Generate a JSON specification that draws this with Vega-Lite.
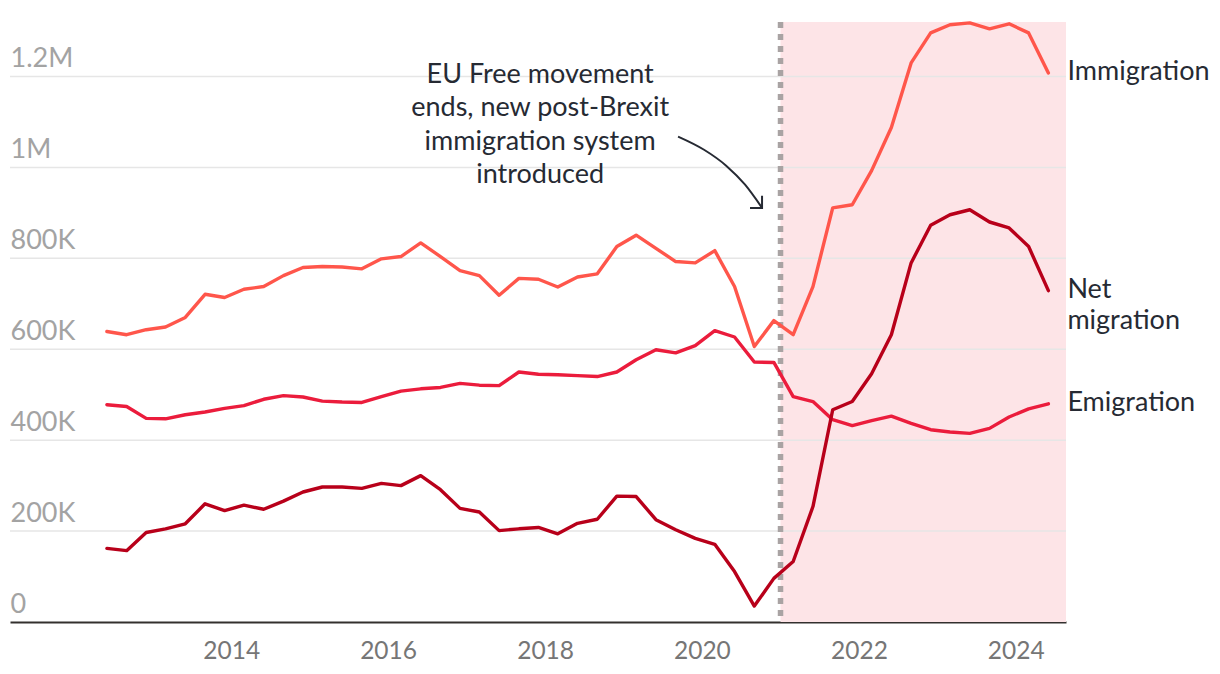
{
  "$schema": "https://vega.github.io/schema/vega-lite/v6.json",
  "width": 1056,
  "height": 600,
  "autosize": {"type": "none"},
  "padding": {"left": 10, "top": 22, "right": 154, "bottom": 52},
  "background": "white",
  "config": {"view": {"stroke": null}, "font": "Lato"},
  "data": {
    "values": [
      {"date": "2012/06/01", "Immigration": 639, "Emigration": 478, "Net migration": 162},
      {"date": "2012/09/01", "Immigration": 632, "Emigration": 474, "Net migration": 157},
      {"date": "2012/12/01", "Immigration": 643, "Emigration": 448, "Net migration": 197},
      {"date": "2013/03/01", "Immigration": 649, "Emigration": 447, "Net migration": 205},
      {"date": "2013/06/01", "Immigration": 670, "Emigration": 456, "Net migration": 216},
      {"date": "2013/09/01", "Immigration": 721, "Emigration": 462, "Net migration": 260},
      {"date": "2013/12/01", "Immigration": 714, "Emigration": 470, "Net migration": 245},
      {"date": "2014/03/01", "Immigration": 732, "Emigration": 476, "Net migration": 257},
      {"date": "2014/06/01", "Immigration": 738, "Emigration": 490, "Net migration": 248},
      {"date": "2014/09/01", "Immigration": 762, "Emigration": 498, "Net migration": 266},
      {"date": "2014/12/01", "Immigration": 780, "Emigration": 495, "Net migration": 286},
      {"date": "2015/03/01", "Immigration": 782, "Emigration": 486, "Net migration": 297},
      {"date": "2015/06/01", "Immigration": 781, "Emigration": 484, "Net migration": 297},
      {"date": "2015/09/01", "Immigration": 777, "Emigration": 483, "Net migration": 294},
      {"date": "2015/12/01", "Immigration": 799, "Emigration": 496, "Net migration": 305},
      {"date": "2016/03/01", "Immigration": 804, "Emigration": 508, "Net migration": 300},
      {"date": "2016/06/01", "Immigration": 834, "Emigration": 513, "Net migration": 322},
      {"date": "2016/09/01", "Immigration": 804, "Emigration": 516, "Net migration": 291},
      {"date": "2016/12/01", "Immigration": 773, "Emigration": 525, "Net migration": 250},
      {"date": "2017/03/01", "Immigration": 762, "Emigration": 521, "Net migration": 242},
      {"date": "2017/06/01", "Immigration": 719, "Emigration": 520, "Net migration": 201},
      {"date": "2017/09/01", "Immigration": 756, "Emigration": 550, "Net migration": 205},
      {"date": "2017/12/01", "Immigration": 754, "Emigration": 545, "Net migration": 208},
      {"date": "2018/03/01", "Immigration": 737, "Emigration": 544, "Net migration": 194},
      {"date": "2018/06/01", "Immigration": 759, "Emigration": 542, "Net migration": 217},
      {"date": "2018/09/01", "Immigration": 766, "Emigration": 540, "Net migration": 226},
      {"date": "2018/12/01", "Immigration": 826, "Emigration": 550, "Net migration": 277},
      {"date": "2019/03/01", "Immigration": 851, "Emigration": 577, "Net migration": 276},
      {"date": "2019/06/01", "Immigration": 822, "Emigration": 599, "Net migration": 225},
      {"date": "2019/09/01", "Immigration": 793, "Emigration": 592, "Net migration": 203},
      {"date": "2019/12/01", "Immigration": 790, "Emigration": 608, "Net migration": 184},
      {"date": "2020/03/01", "Immigration": 817, "Emigration": 641, "Net migration": 171},
      {"date": "2020/06/01", "Immigration": 738, "Emigration": 627, "Net migration": 111},
      {"date": "2020/09/01", "Immigration": 606, "Emigration": 572, "Net migration": 35},
      {"date": "2020/12/01", "Immigration": 663, "Emigration": 571, "Net migration": 96},
      {"date": "2021/03/01", "Immigration": 632, "Emigration": 496, "Net migration": 133},
      {"date": "2021/06/01", "Immigration": 738, "Emigration": 485, "Net migration": 254},
      {"date": "2021/09/01", "Immigration": 911, "Emigration": 445, "Net migration": 467},
      {"date": "2021/12/01", "Immigration": 918, "Emigration": 432, "Net migration": 485},
      {"date": "2022/03/01", "Immigration": 993, "Emigration": 443, "Net migration": 546},
      {"date": "2022/06/01", "Immigration": 1088, "Emigration": 453, "Net migration": 632},
      {"date": "2022/09/01", "Immigration": 1230, "Emigration": 437, "Net migration": 790},
      {"date": "2022/12/01", "Immigration": 1296, "Emigration": 423, "Net migration": 873},
      {"date": "2023/03/01", "Immigration": 1314, "Emigration": 418, "Net migration": 896},
      {"date": "2023/06/01", "Immigration": 1318, "Emigration": 415, "Net migration": 907},
      {"date": "2023/09/01", "Immigration": 1305, "Emigration": 426, "Net migration": 880},
      {"date": "2023/12/01", "Immigration": 1316, "Emigration": 451, "Net migration": 867},
      {"date": "2024/03/01", "Immigration": 1296, "Emigration": 469, "Net migration": 826},
      {"date": "2024/06/01", "Immigration": 1208, "Emigration": 480, "Net migration": 729}
    ],
    "format": {"parse": {"date": "date"}}
  },
  "layer": [
    {
      "data": {"values": [{"start": "2021/01/01", "end": "2024/08/22"}], "format": {"parse": {"start": "date", "end": "date"}}},
      "mark": {"type": "rect", "color": "#fde4e7"},
      "encoding": {
        "x": {"field": "start", "type": "temporal", "title": null, "scale": {"domain": [{"year": 2011, "month": 3, "date": 8}, {"year": 2024, "month": 8, "date": 22}]}},
        "x2": {"field": "end"}
      }
    },
    {
      "data": {"values": [{"v": 200}, {"v": 400}, {"v": 600}, {"v": 800}, {"v": 1000}, {"v": 1200}]},
      "mark": {"type": "rule", "color": "#e6e6e6", "strokeWidth": 1.5},
      "encoding": {
        "y": {"field": "v", "type": "quantitative", "title": null, "scale": {"domain": [0, 1320], "nice": false, "zero": true}}
      }
    },
    {
      "data": {"values": [{"d": "2021/01/01"}], "format": {"parse": {"d": "date"}}},
      "mark": {"type": "rule", "color": "#a9a3a3", "strokeWidth": 5.5, "strokeDash": [6, 6]},
      "encoding": {
        "x": {"field": "d", "type": "temporal", "title": null}
      }
    },
    {
      "transform": [{"fold": ["Immigration", "Emigration", "Net migration"], "as": ["key", "value"]}],
      "mark": {"type": "line", "strokeWidth": 3.4, "strokeJoin": "round", "strokeCap": "round"},
      "encoding": {
        "x": {
          "field": "date", "type": "temporal", "title": null,
          "axis": {
            "values": [{"year": 2014, "month": 1, "date": 1}, {"year": 2016, "month": 1, "date": 1}, {"year": 2018, "month": 1, "date": 1}, {"year": 2020, "month": 1, "date": 1}, {"year": 2022, "month": 1, "date": 1}, {"year": 2024, "month": 1, "date": 1}],
            "format": "%Y", "grid": false, "ticks": false, "tickSize": 0,
            "domain": true, "domainColor": "#33302e", "domainWidth": 2,
            "labelFont": "Lato", "labelFontSize": 24.5, "labelColor": "#767676", "labelPadding": 17
          }
        },
        "y": {
          "field": "value", "type": "quantitative", "title": null,
          "scale": {"domain": [0, 1320], "nice": false},
          "axis": {
            "values": [0, 200, 400, 600, 800, 1000, 1200],
            "labelExpr": "datum.value == 0 ? '0' : datum.value >= 1000 ? format(datum.value / 1000, '~g') + 'M' : datum.value + 'K'",
            "grid": false, "ticks": false, "tickSize": 0, "domain": false,
            "labelAlign": "left", "labelBaseline": "alphabetic", "labelOffset": -10, "labelPadding": 0,
            "labelFont": "Lato", "labelFontSize": 27, "labelColor": "#a3a3a3", "labelOverlap": false, "labelFlush": false
          }
        },
        "color": {
          "field": "key", "type": "nominal", "legend": null,
          "scale": {"domain": ["Immigration", "Emigration", "Net migration"], "range": ["#ff564b", "#eb1c3c", "#b8001a"]}
        }
      }
    },
    {
      "transform": [
        {"fold": ["Immigration", "Emigration", "Net migration"], "as": ["key", "value"]},
        {"aggregate": [{"op": "argmax", "field": "date", "as": "last"}], "groupby": ["key"]}
      ],
      "mark": {"type": "text", "align": "left", "baseline": "alphabetic", "dx": 19, "dy": 7, "fontSize": 27, "color": "#262a33", "lineBreak": " ", "lineHeight": 31, "font": "Lato"},
      "encoding": {
        "x": {"field": "last.date", "type": "temporal", "title": null},
        "y": {"field": "last.value", "type": "quantitative", "title": null},
        "text": {"field": "key"}
      }
    },
    {
      "data": {"values": [
        {"d": "2019/09/12", "v": 1068},
        {"d": "2020/01/11", "v": 1039},
        {"d": "2020/04/23", "v": 1004},
        {"d": "2020/07/20", "v": 962},
        {"d": "2020/10/07", "v": 911}
      ], "format": {"parse": {"d": "date"}}},
      "mark": {"type": "line", "color": "#262a33", "strokeWidth": 2, "interpolate": "monotone"},
      "encoding": {
        "x": {"field": "d", "type": "temporal", "title": null},
        "y": {"field": "v", "type": "quantitative", "title": null}
      }
    },
    {
      "data": {"values": [
        {"o": 1, "d": "2020/08/12", "v": 911},
        {"o": 2, "d": "2020/10/07", "v": 911},
        {"o": 3, "d": "2020/10/07", "v": 938}
      ], "format": {"parse": {"d": "date"}}},
      "mark": {"type": "line", "color": "#262a33", "strokeWidth": 2, "strokeJoin": "miter"},
      "encoding": {
        "x": {"field": "d", "type": "temporal", "title": null},
        "y": {"field": "v", "type": "quantitative", "title": null},
        "order": {"field": "o", "type": "quantitative"}
      }
    },
    {
      "data": {"values": [{"d": "2017/12/09", "v": 1186, "t": "EU Free movement|ends, new post-Brexit|immigration system|introduced"}], "format": {"parse": {"d": "date"}}},
      "mark": {"type": "text", "align": "center", "baseline": "alphabetic", "fontSize": 27, "color": "#262a33", "lineBreak": "|", "lineHeight": 33.5, "font": "Lato"},
      "encoding": {
        "x": {"field": "d", "type": "temporal", "title": null},
        "y": {"field": "v", "type": "quantitative", "title": null},
        "text": {"field": "t"}
      }
    }
  ]
}
